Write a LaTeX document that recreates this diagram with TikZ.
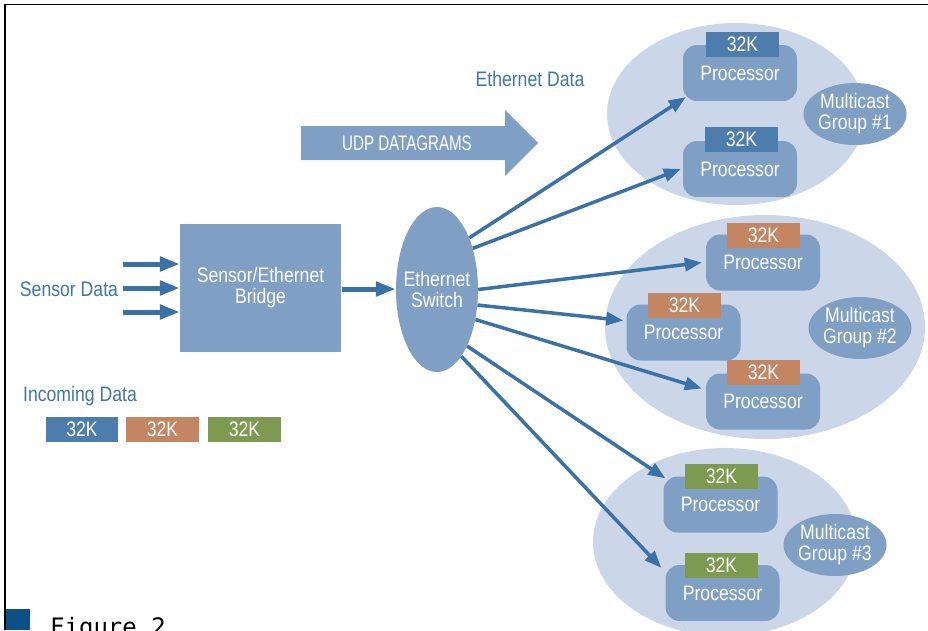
\documentclass[tikz,border=0pt]{standalone}
\usepackage{fontspec}
\setmainfont{Liberation Sans}[FakeStretch=0.84]
\newfontfamily\capsfont{Liberation Sans}[FakeStretch=0.72]
\newfontfamily\figfont{DejaVu Sans Mono}
\usetikzlibrary{shapes.geometric,arrows.meta,calc}
\definecolor{boxblue}{HTML}{7F9FC5}
\definecolor{grpcol}{HTML}{CBD6E8}
\definecolor{arrowblue}{HTML}{3A72A8}
\definecolor{txtblue}{HTML}{3F75AA}
\definecolor{tagblue}{HTML}{4C7DAC}
\definecolor{tagorange}{HTML}{C48563}
\definecolor{taggreen}{HTML}{7E9A51}
\definecolor{figblue}{HTML}{0B5087}
\tikzset{
  proc/.style={rectangle, rounded corners=14pt, fill=boxblue, minimum width=114pt, minimum height=56pt, text=white, inner sep=0pt},
  tag/.style={rectangle, minimum width=73pt, minimum height=25pt, text=white, inner sep=0pt},
  grp/.style={ellipse, fill=grpcol, inner sep=0pt},
  mc/.style={ellipse, fill=boxblue, minimum width=103pt, minimum height=62pt, inner sep=0pt},
  intext/.style={text=white, align=center, inner sep=0pt},
  link/.style={draw=arrowblue, line width=3.5pt, -{Triangle[length=17pt,width=13pt]}},
  feed/.style={draw=arrowblue, line width=5pt, -{Triangle[length=20pt,width=14pt]}},
  lbl/.style={text=txtblue, anchor=base, inner sep=0pt}
}
\begin{document}
\begin{tikzpicture}[x=1pt,y=-1pt,font=\fontsize{21}{21}\selectfont]
\useasboundingbox (0,0) rectangle (928,630);
\clip (0,0) rectangle (928,630);
% frame
\draw[line width=1.5pt] (5,630) -- (5,4.5) -- (928,4.5);
\fill[figblue] (5.5,609) rectangle (30,630);
\node[anchor=base west, inner sep=0pt, font=\figfont\fontsize{24}{24}\selectfont] (fig) at (50,635) {Figure 2};

% group ellipses
\node[grp, minimum width=258pt, minimum height=182pt] (g1) at (736,114) {};
\node[grp, minimum width=320pt, minimum height=224pt] (g2) at (765,327) {};
\node[grp, minimum width=264pt, minimum height=188pt] (g3) at (725,542) {};
\node[mc] (m1) at (855,114) {};
\node[intext] (m1t) at (m1.center) {Multicast\\Group \#1};
\node[mc] (m2) at (860,328) {};
\node[intext] (m2t) at (m2.center) {Multicast\\Group \#2};
\node[mc] (m3) at (835,545) {};
\node[intext] (m3t) at (m3.center) {Multicast\\Group \#3};

% processors
\node[proc] (p1) at (740,73) {Processor};
\node[proc] (p2) at (740,169) {Processor};
\node[proc] (pA) at (763,262.5) {Processor};
\node[proc] (pB) at (683.5,332.5) {Processor};
\node[proc] (pC) at (763,401.5) {Processor};
\node[proc] (pD) at (720.5,504.5) {Processor};
\node[proc] (pE) at (722.5,593) {Processor};
\node[tag, fill=tagblue] (t1) at (742.5,44.5) {32K};
\node[tag, fill=tagblue] (t2) at (741.5,139.5) {32K};
\node[tag, fill=tagorange] (tA) at (763.5,235) {32K};
\node[tag, fill=tagorange] (tB) at (684.5,305.5) {32K};
\node[tag, fill=tagorange] (tC) at (763.5,372) {32K};
\node[tag, fill=taggreen] (tD) at (721.5,476) {32K};
\node[tag, fill=taggreen] (tE) at (721.5,565) {32K};

% left part
\node[lbl] (sd) at (69,296) {Sensor Data};
\node[rectangle, fill=boxblue, minimum width=161pt, minimum height=128pt, text=white, align=center, inner sep=0pt] (br) at (260.5,288) {Sensor/Ethernet\\Bridge};
\node[ellipse, fill=boxblue, minimum width=82pt, minimum height=165pt, inner sep=0pt] (sw) at (437,289.5) {};
\node[intext] (swt) at (sw.center) {Ethernet\\Switch};
\coordinate (in1) at (123,264);
\coordinate (in2) at (123,288);
\coordinate (in3) at (123,312);
\draw[feed] (in1) -- (in1 -| br.west);
\draw[feed] (in2) -- (in2 -| br.west);
\draw[feed] (in3) -- (in3 -| br.west);
\draw[feed, shorten <=1pt] (br.east |- 0,289) -- (sw.west |- 0,289);

% UDP arrow
\fill[boxblue] (301,126) -- (505,126) -- (505,110) -- (538,143) -- (505,176) -- (505,160) -- (301,160) -- cycle;
\node[text=white, inner sep=0pt, font=\capsfont\fontsize{21}{21}\selectfont] (udp) at (407,143) {UDP DATAGRAMS};
\node[lbl] (ed) at (530,86) {Ethernet Data};

% incoming data
\node[lbl] (inc) at (80,401) {Incoming Data};
\node[tag, fill=tagblue, minimum width=72pt] (i1) at (82,429.5) {32K};
\node[tag, fill=tagorange] (i2) at (162.5,429.5) {32K};
\node[tag, fill=taggreen] (i3) at (244.5,429.5) {32K};

% switch links
\draw[link] (sw.58) -- ([xshift=3pt,yshift=4pt]p1.south west);
\draw[link] (sw.49) -- ([xshift=-2pt]p2.west);
\draw[link] (sw.0) -- ([xshift=-4pt]pA.west);
\draw[link] (sw.-21) -- ([xshift=-3pt,yshift=12pt]pB.west);
\draw[link] (sw.-38) -- ([xshift=-4pt,yshift=13pt]pC.west);
\draw[link] (sw.-62) -- ([xshift=2pt,yshift=-2pt]pD.north west);
\draw[link] (sw.-70) -- ([xshift=-4pt,yshift=-3pt]pE.north west);
\end{tikzpicture}
\end{document}
